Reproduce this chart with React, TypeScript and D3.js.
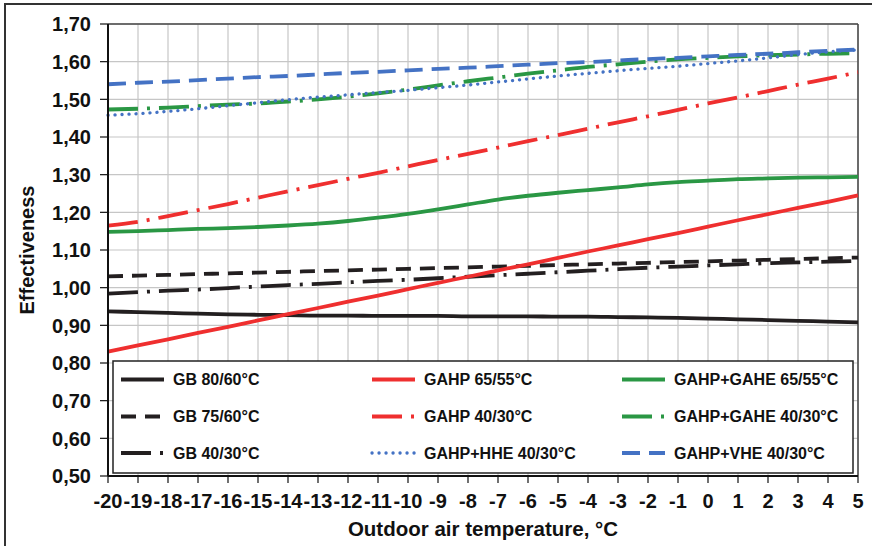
import React from "react";
import * as d3 from "d3";

const temps = [-20, -19, -18, -17, -16, -15, -14, -13, -12, -11, -10, -9, -8, -7, -6, -5, -4, -3, -2, -1, 0, 1, 2, 3, 4, 5];
const yTicks = [0.5, 0.6, 0.7, 0.8, 0.9, 1.0, 1.1, 1.2, 1.3, 1.4, 1.5, 1.6, 1.7];

const gb8060 = [0.937, 0.935, 0.933, 0.931, 0.929, 0.928, 0.927, 0.926, 0.926, 0.925, 0.925, 0.925, 0.924, 0.924, 0.924, 0.923, 0.923, 0.922, 0.921, 0.92, 0.918, 0.916, 0.914, 0.912, 0.91, 0.908];
const gb7560 = [1.03, 1.032, 1.034, 1.036, 1.038, 1.04, 1.042, 1.044, 1.046, 1.048, 1.05, 1.052, 1.054, 1.056, 1.058, 1.06, 1.062, 1.064, 1.066, 1.068, 1.07, 1.072, 1.074, 1.076, 1.078, 1.08];
const gb4030 = [0.984, 0.988, 0.992, 0.995, 0.999, 1.003, 1.007, 1.01, 1.014, 1.018, 1.021, 1.025, 1.029, 1.033, 1.037, 1.041, 1.045, 1.049, 1.053, 1.056, 1.059, 1.062, 1.065, 1.067, 1.069, 1.071];
const gahp6555 = [0.83, 0.847, 0.863, 0.88, 0.896, 0.913, 0.93, 0.946, 0.963, 0.979, 0.996, 1.013, 1.029, 1.046, 1.062, 1.079, 1.096, 1.112, 1.129, 1.145, 1.162, 1.179, 1.195, 1.212, 1.228, 1.245];
const gahp4030 = [1.165, 1.175, 1.19, 1.206, 1.222, 1.239, 1.256, 1.272, 1.289, 1.305, 1.322, 1.339, 1.355, 1.372, 1.389, 1.405, 1.422, 1.439, 1.455, 1.472, 1.489, 1.505, 1.522, 1.539, 1.555, 1.572];
const gahe6555 = [1.148, 1.15, 1.153, 1.156, 1.158, 1.161, 1.165, 1.17, 1.177, 1.186, 1.196, 1.208, 1.221, 1.234, 1.244, 1.252, 1.259, 1.266, 1.274, 1.28, 1.284, 1.288, 1.29, 1.292, 1.293, 1.294];
const gahe4030 = [1.473, 1.475, 1.478, 1.482, 1.486, 1.489, 1.494, 1.5, 1.507, 1.516, 1.526, 1.537, 1.548, 1.558, 1.568, 1.577, 1.586, 1.593, 1.6, 1.606, 1.61, 1.614, 1.617, 1.619, 1.621, 1.622];
const hhe4030 = [1.458, 1.462, 1.468, 1.475, 1.483, 1.491, 1.499, 1.506, 1.512, 1.518, 1.524, 1.531, 1.538, 1.546, 1.554, 1.562, 1.569, 1.576, 1.582, 1.588, 1.595, 1.602, 1.61, 1.619, 1.626, 1.631];
const vhe4030 = [1.54, 1.544, 1.547, 1.551, 1.555, 1.559, 1.562, 1.566, 1.57, 1.573, 1.577, 1.581, 1.584, 1.588, 1.592, 1.596, 1.599, 1.603, 1.607, 1.61, 1.614, 1.618, 1.621, 1.625, 1.629, 1.632];

const BLACK = "#231f20";
const RED = "#ef2f2f";
const GREEN = "#2a9744";
const BLUE = "#4472c4";

// col/row = legend slot
const series = [
  { name: "GB 80/60°C", values: gb8060, color: BLACK, dash: "", w: 3.8, cap: "butt", col: 0, row: 0 },
  { name: "GB 75/60°C", values: gb7560, color: BLACK, dash: "15 9", w: 3.8, cap: "butt", col: 0, row: 1 },
  { name: "GB 40/30°C", values: gb4030, color: BLACK, dash: "30 9 3 9", w: 3.8, cap: "butt", col: 0, row: 2 },
  { name: "GAHP 65/55°C", values: gahp6555, color: RED, dash: "", w: 3.8, cap: "butt", col: 1, row: 0 },
  { name: "GAHP 40/30°C", values: gahp4030, color: RED, dash: "30 9 3 9", w: 3.8, cap: "butt", col: 1, row: 1 },
  { name: "GAHP+GAHE 65/55°C", values: gahe6555, color: GREEN, dash: "", w: 3.8, cap: "butt", col: 2, row: 0 },
  { name: "GAHP+GAHE 40/30°C", values: gahe4030, color: GREEN, dash: "30 9 3 9", w: 3.8, cap: "butt", col: 2, row: 1 },
  { name: "GAHP+HHE 40/30°C", values: hhe4030, color: BLUE, dash: "0.1 6.9", w: 3.3, cap: "round", col: 1, row: 2 },
  { name: "GAHP+VHE 40/30°C", values: vhe4030, color: BLUE, dash: "18 9", w: 3.8, cap: "butt", col: 2, row: 2 },
];

const W = 872;
const H = 546;
const L = 108, R = 858, T = 24, B = 476;
const FONT = "'Liberation Sans', Arial, sans-serif";

export default function App() {
  React.useEffect(() => {
    document.body.style.margin = "0";
  }, []);
  const x = d3.scalePoint<number>().domain(temps).range([L, R]);
  const y = d3.scaleLinear().domain([0.5, 1.7]).range([B, T]);
  const line = d3
    .line<number>()
    .x((_, i) => x(temps[i]) as number)
    .y((d) => y(d))
    .curve(d3.curveMonotoneX);

  const legendCols = [121, 372, 622];
  const legendRows = [379.5, 416.5, 453];

  return (
    <svg width={W} height={H} style={{ position: "absolute", left: 0, top: 0, background: "#fff" }} fontFamily={FONT}>
      <rect x={0} y={0} width={W} height={H} fill="#fff" />
      <rect x={5} y={4} width={900} height={700} fill="none" stroke="#333" strokeWidth={2} />
      {/* grid */}
      {yTicks.map((t) => (
        <line key={"gy" + t} x1={L} x2={R} y1={y(t)} y2={y(t)} stroke="#c6c6c6" strokeWidth={1.2} />
      ))}
      {temps.map((t) => (
        <line key={"gx" + t} x1={x(t)} x2={x(t)} y1={T} y2={B} stroke="#c6c6c6" strokeWidth={1.2} />
      ))}
      {/* frame */}
      <line x1={L} x2={R} y1={T} y2={T} stroke="#444" strokeWidth={1.5} />
      <line x1={R} x2={R} y1={T} y2={B} stroke="#444" strokeWidth={1.5} />
      {/* series */}
      {series.map((s) => (
        <path
          key={s.name}
          d={line(s.values) || ""}
          fill="none"
          stroke={s.color}
          strokeWidth={s.w}
          strokeDasharray={s.dash || undefined}
          strokeLinecap={s.cap as any}
        />
      ))}
      {/* axes */}
      <line x1={L} x2={L} y1={T} y2={B} stroke="#111" strokeWidth={2} />
      <line x1={L} x2={R} y1={B} y2={B} stroke="#111" strokeWidth={2} />
      {yTicks.map((t) => (
        <g key={"ty" + t}>
          <line x1={L - 8} x2={L} y1={y(t)} y2={y(t)} stroke="#111" strokeWidth={1.2} />
          <text x={91} y={y(t)} dy="0.36em" textAnchor="end" fontSize={20} fontWeight="bold" fill="#111">
            {t.toFixed(2).replace(".", ",")}
          </text>
        </g>
      ))}
      {temps.map((t) => (
        <g key={"tx" + t}>
          <line x1={x(t)} x2={x(t)} y1={B} y2={B + 7} stroke="#111" strokeWidth={1.2} />
          <text x={x(t)} y={508} textAnchor="middle" fontSize={20} fontWeight="bold" fill="#111">
            {String(t)}
          </text>
        </g>
      ))}
      <text x={(L + R) / 2} y={536} textAnchor="middle" fontSize={20.5} fontWeight="bold" fill="#111">
        Outdoor air temperature, °C
      </text>
      <text
        transform={`translate(34, ${(T + B) / 2}) rotate(-90)`}
        textAnchor="middle"
        fontSize={20}
        fontWeight="bold"
        fill="#111"
      >
        Effectiveness
      </text>
      {/* legend */}
      <rect x={113} y={361} width={740} height={112} fill="#fff" stroke="#222" strokeWidth={1.5} />
      {series.map((s) => {
        const lx = legendCols[s.col];
        const ly = legendRows[s.row];
        return (
          <g key={"lg" + s.name}>
            <line
              x1={lx}
              x2={lx + 43}
              y1={ly}
              y2={ly}
              stroke={s.color}
              strokeWidth={s.w}
              strokeDasharray={s.dash || undefined}
              strokeLinecap={s.cap as any}
            />
            <text x={lx + 52} y={ly} dy="0.36em" fontSize={16} fontWeight="bold" fill="#111">
              {s.name}
            </text>
          </g>
        );
      })}
    </svg>
  );
}
